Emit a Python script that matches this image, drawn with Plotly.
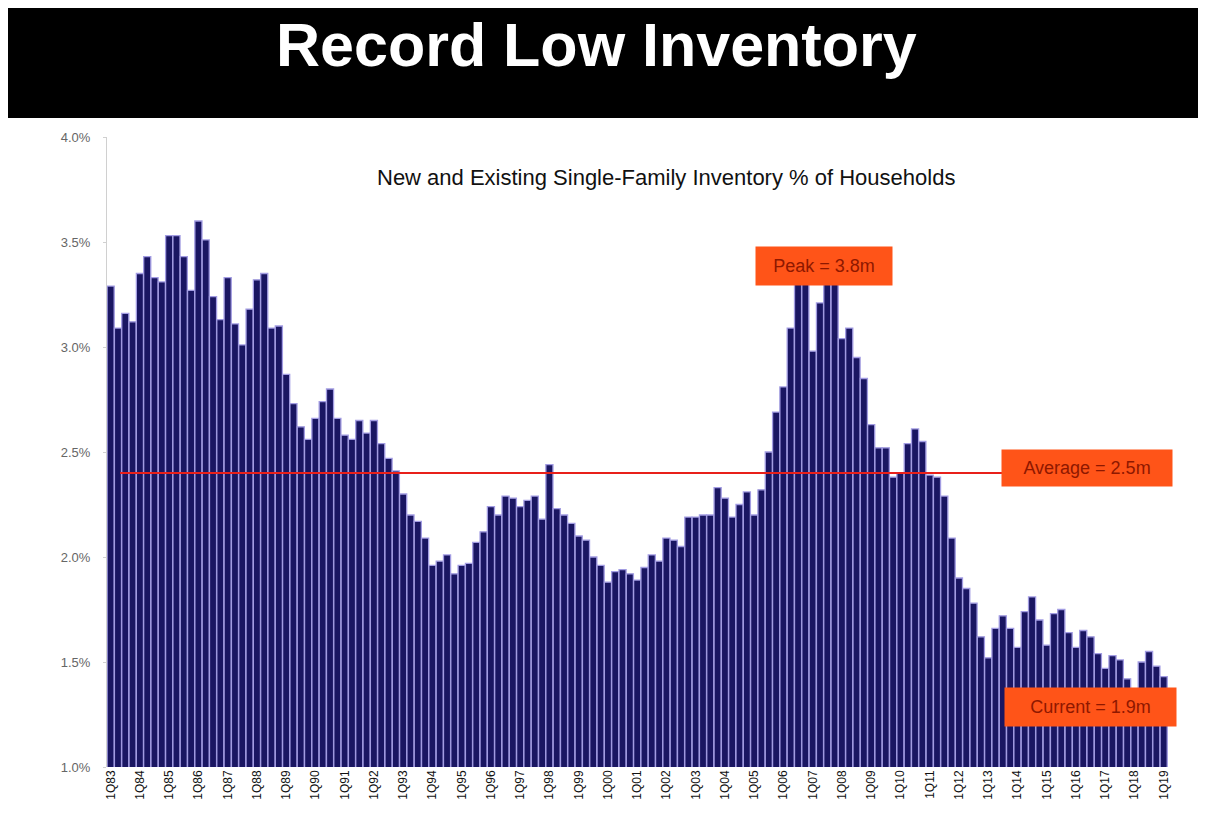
import plotly.graph_objects as go

# quarterly inventory as % of households, 1Q83 .. 1Q19
years = ["83", "84", "85", "86", "87", "88", "89", "90", "91", "92", "93", "94",
         "95", "96", "97", "98", "99", "00", "01", "02", "03", "04", "05", "06",
         "07", "08", "09", "10", "11", "12", "13", "14", "15", "16", "17", "18", "19"]

inventory_pct = [
    3.29, 3.09, 3.16, 3.12, 3.35, 3.43, 3.33, 3.31, 3.53, 3.53, 3.43, 3.27,
    3.60, 3.51, 3.24, 3.13, 3.33, 3.11, 3.01, 3.18, 3.32, 3.35, 3.09, 3.10,
    2.87, 2.73, 2.62, 2.56, 2.66, 2.74, 2.80, 2.66, 2.58, 2.56, 2.65, 2.59,
    2.65, 2.54, 2.47, 2.41, 2.30, 2.20, 2.17, 2.09, 1.96, 1.98, 2.01, 1.92,
    1.96, 1.97, 2.07, 2.12, 2.24, 2.20, 2.29, 2.28, 2.24, 2.27, 2.29, 2.18,
    2.44, 2.23, 2.20, 2.16, 2.10, 2.08, 2.00, 1.96, 1.88, 1.93, 1.94, 1.92,
    1.89, 1.95, 2.01, 1.98, 2.09, 2.08, 2.05, 2.19, 2.19, 2.20, 2.20, 2.33,
    2.28, 2.19, 2.25, 2.31, 2.20, 2.32, 2.50, 2.69, 2.81, 3.09, 3.42, 3.44,
    2.98, 3.21, 3.44, 3.40, 3.04, 3.09, 2.95, 2.85, 2.63, 2.52, 2.52, 2.38,
    2.40, 2.54, 2.61, 2.55, 2.39, 2.38, 2.29, 2.09, 1.90, 1.85, 1.78, 1.62,
    1.52, 1.66, 1.72, 1.66, 1.57, 1.74, 1.81, 1.70, 1.58, 1.73, 1.75, 1.64,
    1.57, 1.65, 1.62, 1.54, 1.47, 1.53, 1.51, 1.42, 1.35, 1.50, 1.55, 1.48,
    1.43,
]

average_level = 2.40
y_ticks = [1.0, 1.5, 2.0, 2.5, 3.0, 3.5, 4.0]

# category labels, one per quarter, last year only has Q1
quarters = []
for yy in years:
    for q in range(1, 5):
        quarters.append("{}Q{}".format(q, yy))
quarters = quarters[:len(inventory_pct)]
tick_labels = ["1Q" + yy for yy in years]
tick_idx = [quarters.index(t) for t in tick_labels]

box_color = "#ff5418"
box_text = "#8e1800"

fig = go.Figure()
fig.add_trace(go.Bar(
    x=list(range(len(inventory_pct))),
    y=inventory_pct,
    marker=dict(color="#1a1662", line=dict(color="#a29ce2", width=1.3)),
    hoverinfo="y",
))

# page has an 8px body margin, margins below allow for it
fig.update_layout(
    width=1206, height=824,
    margin=dict(l=99, r=43, t=129, b=65),
    paper_bgcolor="white", plot_bgcolor="white",
    bargap=0.03,
    showlegend=False,
    font=dict(family="Liberation Sans, Arial, sans-serif", color="#222"),
    xaxis=dict(
        range=[-0.5, 145.0],
        tickmode="array", tickvals=tick_idx, ticktext=tick_labels,
        tickangle=-90, tickfont=dict(size=12, color="#111"),
        showgrid=False, zeroline=False, showline=False, ticks="",
    ),
    yaxis=dict(
        range=[1.0, 4.0],
        tickmode="array", tickvals=y_ticks,
        ticktext=["{:.1f}%".format(v) for v in y_ticks],
        tickfont=dict(size=13, color="#666"),
        ticklabelstandoff=10,
        showgrid=False, zeroline=False,
        showline=True, linecolor="#d0d0d0", linewidth=1,
        ticks="outside", ticklen=3, tickcolor="#d0d0d0",
    ),
    shapes=[
        # black header band
        dict(type="rect", xref="paper", yref="paper",
             x0=-0.2, x1=1.1, y0=1.0302, y1=1.25,
             fillcolor="black", line=dict(width=0), layer="above"),
        # average line
        dict(type="line", xref="x", yref="y",
             x0=1.3, x1=121.9, y0=average_level, y1=average_level,
             line=dict(color="#e8201a", width=2), layer="above"),
    ],
    annotations=[
        dict(text="<b>Record Low Inventory</b>", xref="paper", yref="paper",
             x=0.4598, y=1.146, xanchor="center", yanchor="middle",
             showarrow=False,
             font=dict(size=61, color="white", family="Liberation Sans, Arial")),
        dict(text="New and Existing Single-Family Inventory % of Households",
             xref="paper", yref="paper", x=0.525, y=0.9365,
             xanchor="center", yanchor="middle", showarrow=False,
             font=dict(size=22, color="#111")),
        dict(text="Peak = 3.8m", xref="x", yref="y", x=97.6, y=3.386,
             showarrow=False, bgcolor=box_color, width=130, height=32,
             borderpad=3, font=dict(size=18, color=box_text)),
        dict(text="Average = 2.5m", xref="x", yref="y", x=133.5, y=2.424,
             showarrow=False, bgcolor=box_color, width=164, height=30,
             borderpad=3, font=dict(size=18, color=box_text)),
        dict(text="Current = 1.9m", xref="x", yref="y", x=134.0, y=1.286,
             showarrow=False, bgcolor=box_color, width=165, height=32,
             borderpad=3, font=dict(size=18, color=box_text)),
    ],
)

fig.write_html("out.html")
